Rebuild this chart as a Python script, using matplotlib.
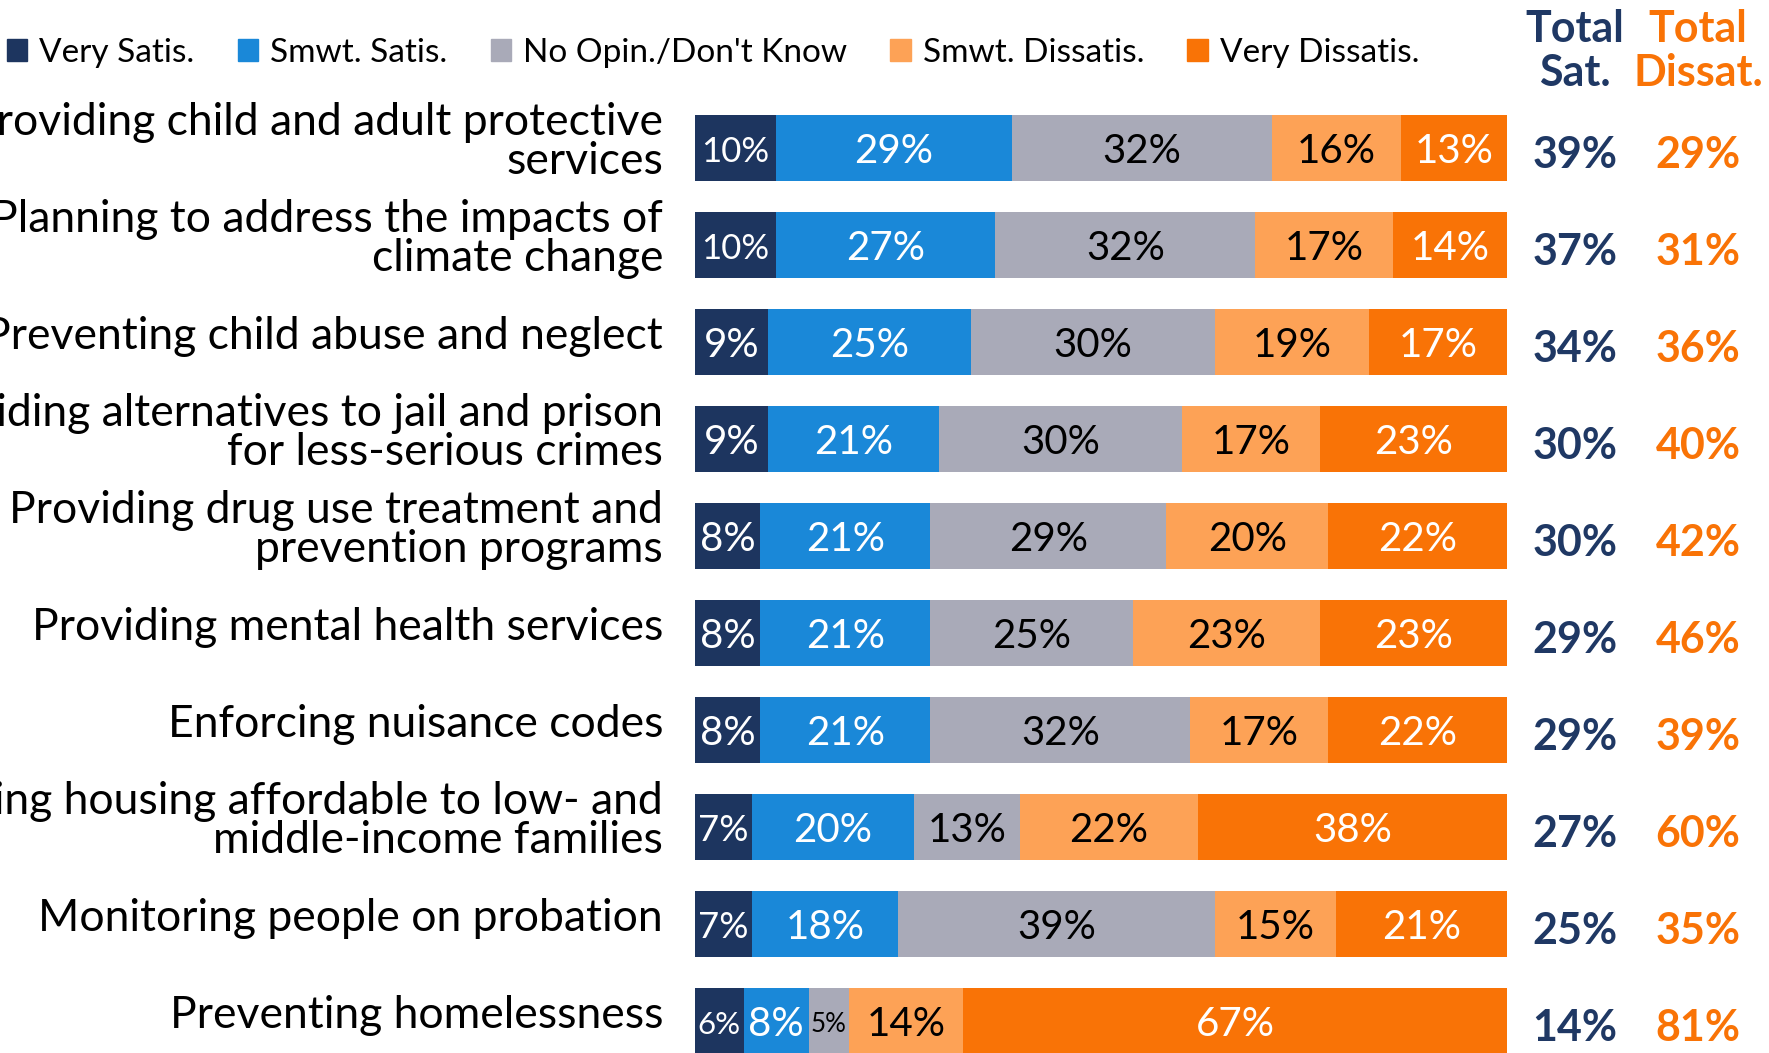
import matplotlib
matplotlib.use('Agg')
import matplotlib.pyplot as plt
import numpy as np

plt.rcParams['font.family'] = ['Lato', 'DejaVu Sans']

# survey items, top to bottom
items = [
    'Providing child and adult protective\nservices',
    'Planning to address the impacts of\nclimate change',
    'Preventing child abuse and neglect',
    'Providing alternatives to jail and prison\nfor less-serious crimes',
    'Providing drug use treatment and\nprevention programs',
    'Providing mental health services',
    'Enforcing nuisance codes',
    'Providing housing affordable to low- and\nmiddle-income families',
    'Monitoring people on probation',
    'Preventing homelessness',
]

very_satis = [10, 10, 9, 9, 8, 8, 8, 7, 7, 6]
smwt_satis = [29, 27, 25, 21, 21, 21, 21, 20, 18, 8]
no_opinion = [32, 32, 30, 30, 29, 25, 32, 13, 39, 5]
smwt_dissatis = [16, 17, 19, 17, 20, 23, 17, 22, 15, 14]
very_dissatis = [13, 14, 17, 23, 22, 23, 22, 38, 21, 67]

total_sat = [39, 37, 34, 30, 30, 29, 29, 27, 25, 14]
total_dissat = [29, 31, 36, 40, 42, 46, 39, 60, 35, 81]

series_names = ['Very Satis.', 'Smwt. Satis.', "No Opin./Don't Know",
                'Smwt. Dissatis.', 'Very Dissatis.']
colors = ['#1d355f', '#1a88d8', '#a9aab8', '#fda256', '#f97306']
text_colors = ['white', 'white', 'black', 'black', 'white']
navy = '#1f3864'
orange = '#f97306'

W, H = 1769, 1053
fig = plt.figure(figsize=(W / 100, H / 100), dpi=100)

# bar area in pixels: left 695, right 1507, row pitch 97, first row centre 148
left, right = 695, 1507
pitch = 97
first_c = 148
top_px = first_c - pitch / 2
ax_h = pitch * len(items)
ax = fig.add_axes([left / W, 1 - (top_px + ax_h) / H, (right - left) / W, ax_h / H])

y = np.arange(len(items))
data = [very_satis, smwt_satis, no_opinion, smwt_dissatis, very_dissatis]
start = np.zeros(len(items))
for vals, col, tcol in zip(data, colors, text_colors):
    vals = np.array(vals)
    ax.barh(y, vals, left=start, height=0.675, color=col, edgecolor='none')
    for yi, (s, v) in enumerate(zip(start, vals)):
        txt = f'{v}%'
        fs = min(29, 7.5 * v / len(txt))
        ax.text(s + v / 2, yi + 0.04, txt, ha='center', va='center',
                color=tcol, fontsize=fs)
    start += vals

ax.set_xlim(0, 100)
ax.set_ylim(len(items) - 0.5, -0.5)
ax.axis('off')

px = (right - left) / 100.0
lab_x = (663 - left) / px
sat_x = (1575 - left) / px
dis_x = (1698 - left) / px

# labels run off the left edge, as in the source slide
for yi, lab in enumerate(items):
    ax.text(lab_x, yi - 0.06, lab, ha='right', va='center', fontsize=32,
            linespacing=0.95, clip_on=False)
    ax.text(sat_x, yi + 0.07, f'{total_sat[yi]}%', ha='center', va='center',
            fontsize=31, fontweight='bold', color=navy, clip_on=False)
    ax.text(dis_x, yi + 0.07, f'{total_dissat[yi]}%', ha='center', va='center',
            fontsize=31, fontweight='bold', color=orange, clip_on=False)

# column headers
fig.text(1575 / W, 1 - 51 / H, 'Total\nSat.', ha='center', va='center',
         fontsize=31, fontweight='bold', color=navy, linespacing=1.12)
fig.text(1698 / W, 1 - 51 / H, 'Total\nDissat.', ha='center', va='center',
         fontsize=31, fontweight='bold', color=orange, linespacing=1.12)

# legend
handles = [plt.Rectangle((0, 0), 1, 1, color=c) for c in colors]
fig.legend(handles, series_names, loc='center left', ncol=5,
           bbox_to_anchor=(0.0, 1 - 53 / H), frameon=False, fontsize=24,
           handlelength=0.62, handleheight=0.62, handletextpad=0.35,
           columnspacing=1.3, borderaxespad=0, borderpad=0.2)

fig.savefig('out.png', dpi=100)
